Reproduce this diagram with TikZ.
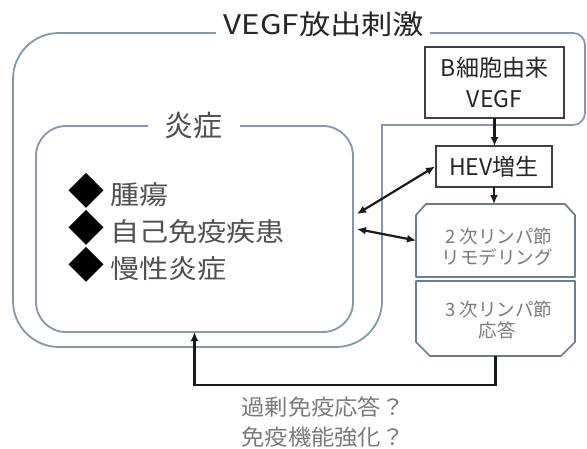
\documentclass[tikz,border=0pt]{standalone}
\usepackage{fontspec}
\setmainfont{Noto Sans CJK JP}
\usetikzlibrary{arrows.meta,calc}
\definecolor{framec}{HTML}{8497B0}
\definecolor{octc}{HTML}{6B7C95}
\definecolor{boxc}{HTML}{404040}
\definecolor{txtdark}{HTML}{262626}
\definecolor{txtmid}{HTML}{505050}
\definecolor{txtlight}{HTML}{7A7A7A}
\newcommand{\myfs}[2]{\fontsize{#1}{#2}\selectfont}
\begin{document}
\begin{tikzpicture}[x=1pt,y=-1pt,
  frameline/.style={draw=framec,line width=1.8pt},
  octline/.style={draw=octc,line width=1.7pt,line join=round},
  boxstyle/.style={draw=boxc,line width=1.6pt,text=txtdark,inner sep=0pt,outer sep=0pt,align=center},
  shapebox/.style={inner sep=0pt,outer sep=0pt},
  arr/.style={draw=black!90,line width=2.2pt,-{Latex[length=9pt,width=8pt]}},
  darr/.style={draw=black!90,line width=2.2pt,{Latex[length=9pt,width=8pt]}-{Latex[length=9pt,width=8pt]}},
  itemtext/.style={text=txtmid,inner sep=0pt,anchor=west},
  lytext/.style={text=txtlight,align=center,inner sep=0pt,font=\myfs{18.5}{21}}
]
\fill[white] (0,0) rectangle (587,448);
\useasboundingbox (0,0) rectangle (587,448);

% outer frame
\draw[frameline,rounded corners=46pt,line cap=rect] (215,33) -- (13,33) -- (13,347) -- (382,347) -- (382,125);
\draw[frameline,rounded corners=12pt] (382,125) -- (585,125) -- (585,33) -- (430,33);
\node[text=txtdark,inner sep=0pt,font=\myfs{27}{27}] (vegftitle) at (324,24) {\scalebox{1.16}[1]{VEGF放出刺激}};

% inner frame
\node[draw=framec,line width=1.8pt,rounded corners=30pt,minimum width=317pt,minimum height=206pt,inner sep=0pt,outer sep=0pt] (inflam) at (194.5,229) {};
\node[fill=white,minimum width=92pt,inner sep=1pt,text=txtmid,font=\myfs{29}{29}] (inflamtitle) at (193.5,126) {炎症};

\node[itemtext] (item1) at (68,191) {{\myfs{36}{36}\textcolor{black}{◆}}\hspace{6pt}\myfs{26}{26}\scalebox{1.12}[1]{腫瘍}};
\node[itemtext] (item2) at (68,228) {{\myfs{36}{36}\textcolor{black}{◆}}\hspace{6pt}\myfs{26}{26}\scalebox{1.12}[1]{自己免疫疾患}};
\node[itemtext] (item3) at (68,265) {{\myfs{36}{36}\textcolor{black}{◆}}\hspace{6pt}\myfs{26}{26}\scalebox{1.12}[1]{慢性炎症}};

% right boxes
\node[boxstyle,minimum width=139pt,minimum height=71pt,font=\myfs{23}{31}] (bcell) at (494.5,82.5) {B細胞由来\\VEGF};
\node[boxstyle,minimum width=116pt,minimum height=41pt,font=\myfs{23}{23}] (hev) at (494,166.5) {HEV増生};

\node[shapebox,minimum width=159pt,minimum height=73pt] (lymph2) at (495.5,240.5) {};
\node[shapebox,minimum width=159pt,minimum height=75pt] (lymph3) at (495.5,318.5) {};
\draw[octline] ([yshift=-11pt]lymph2.north west) -- ([xshift=10pt]lymph2.north west) -- ([xshift=-10pt]lymph2.north east) -- ([yshift=-11pt]lymph2.north east) -- (lymph2.south east) -- (lymph2.south west) -- cycle;
\draw[octline] ([yshift=14pt]lymph3.south west) -- ([xshift=14pt]lymph3.south west) -- ([xshift=-14pt]lymph3.south east) -- ([yshift=14pt]lymph3.south east) -- (lymph3.north east) -- (lymph3.north west) -- cycle;
\node[lytext] (lymph2text) at (497,247) {\makebox[18.5pt]{2}次リンパ節\\リモデリング};
\node[lytext] (lymph3text) at (497,319.5) {\makebox[18.5pt]{3}次リンパ節\\応答};

% connectors
\draw[arr] (bcell.south) -- (bcell.south |- hev.north);
\draw[arr] (hev.south) -- (hev.south |- lymph2.north);
\draw[darr] ([xshift=4pt,yshift=15pt]inflam.east) -- ([xshift=-1pt]hev.west);
\draw[darr] ([xshift=4pt]inflam.east) -- (lymph2.west);
\draw[arr] (lymph3.south) -- ++(0,29) -| (inflam.south);

\node[text=txtlight,align=center,inner sep=0pt,font=\myfs{22}{30}] (question) at (323,422) {\scalebox{1.06}[1]{過剰免疫応答？}\\\scalebox{1.06}[1]{免疫機能強化？}};
\end{tikzpicture}
\end{document}
